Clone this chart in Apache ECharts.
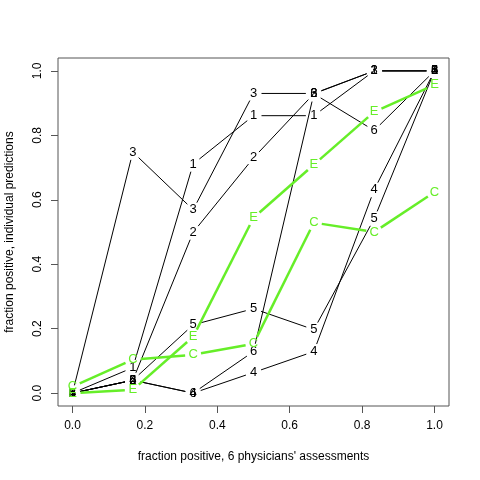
<!DOCTYPE html>
<html>
<head>
<meta charset="utf-8">
<script src="https://cdn.jsdelivr.net/npm/echarts@6/dist/echarts.min.js"></script>
<style>
  html, body { margin: 0; padding: 0; background: #fff; }
  #chart { width: 480px; height: 480px; }
</style>
</head>
<body>
<div id="chart"></div>
<script>
// fraction of the 6 physicians saying positive
var xs = [0, 0.1667, 0.3333, 0.5, 0.6667, 0.8333, 1];
var tickValues = [0, 0.2, 0.4, 0.6, 0.8, 1];

// individual predictions, one array per line (label = plotting character)
var p1 = [0, 0.079, 0.711, 0.861, 0.861, 1.0, 1.0];
var p2 = [0, 0.040, 0.499, 0.730, 0.929, 1.0, 1.0];
var p3 = [0, 0.748, 0.569, 0.930, 0.930, 1.0, 1.0];
var p4 = [0, 0.040, 0.0, 0.064, 0.129, 0.631, 1.0];
var p5 = [0, 0.040, 0.212, 0.262, 0.197, 0.541, 1.0];
var p6 = [0, 0.040, 0.0, 0.129, 0.929, 0.815, 1.0];
var pC = [0.02, 0.104, 0.119, 0.153, 0.529, 0.500, 0.624];
var pE = [0, 0.010, 0.175, 0.544, 0.709, 0.873, 0.957];

var black = '#000000';
var green = '#66ee28';
var gap = 8; // type="b" style gap round each character

function makeSeries(ch, vals, color, width) {
  return {
    type: 'custom',
    name: ch,
    silent: true,
    animation: false,
    encode: { x: 0, y: 1 },
    data: xs.map(function (x, i) { return [x, vals[i]]; }),
    renderItem: function (params, api) {
      var i = params.dataIndex;
      var p = api.coord([xs[i], vals[i]]);
      var kids = [];
      if (i < xs.length - 1) {
        var q = api.coord([xs[i + 1], vals[i + 1]]);
        var dx = q[0] - p[0], dy = q[1] - p[1];
        var d = Math.sqrt(dx * dx + dy * dy);
        if (d > 2 * gap) {
          var ux = dx / d, uy = dy / d;
          kids.push({
            type: 'line',
            shape: { x1: p[0] + ux * gap, y1: p[1] + uy * gap, x2: q[0] - ux * gap, y2: q[1] - uy * gap },
            style: { stroke: color, lineWidth: width }
          });
        }
      }
      kids.push({
        type: 'text',
        style: {
          text: ch, x: p[0], y: p[1],
          align: 'center', verticalAlign: 'middle',
          fill: color, fontSize: 13, fontFamily: 'Liberation Sans'
        }
      });
      return { type: 'group', children: kids };
    }
  };
}

var chart = echarts.init(document.getElementById('chart'));

var txt = { color: '#000', fontSize: 12, fontFamily: 'Liberation Sans' };

chart.setOption({
  backgroundColor: '#fff',
  animation: false,
  grid: {
    left: 58, right: 31, top: 58, bottom: 74,
    outerBoundsMode: 'none',
    containLabel: false,
    show: true, borderColor: '#555', borderWidth: 1
  },
  xAxis: {
    type: 'value',
    min: -0.04, max: 1.04,
    name: "fraction positive, 6 physicians' assessments",
    nameLocation: 'middle',
    nameGap: 45,
    nameTextStyle: txt,
    splitLine: { show: false },
    axisLine: { show: false, onZero: false },
    axisTick: { show: true, inside: false, length: 7, customValues: tickValues, lineStyle: { color: '#555' } },
    axisLabel: Object.assign({ margin: 14, customValues: tickValues, formatter: function (v) { return v.toFixed(1); } }, txt)
  },
  yAxis: {
    type: 'value',
    min: -0.04, max: 1.04,
    name: 'fraction positive, individual predictions',
    nameLocation: 'middle',
    nameGap: 42,
    nameTextStyle: txt,
    splitLine: { show: false },
    axisLine: { show: false, onZero: false },
    axisTick: { show: true, inside: false, length: 7, customValues: tickValues, lineStyle: { color: '#555' } },
    axisLabel: Object.assign({ margin: 14, rotate: 90, customValues: tickValues, formatter: function (v) { return v.toFixed(1); } }, txt)
  },
  series: [
    makeSeries('1', p1, black, 1),
    makeSeries('2', p2, black, 1),
    makeSeries('3', p3, black, 1),
    makeSeries('4', p4, black, 1),
    makeSeries('5', p5, black, 1),
    makeSeries('6', p6, black, 1),
    makeSeries('C', pC, green, 2.5),
    makeSeries('E', pE, green, 2.5)
  ]
});
</script>
</body>
</html>
